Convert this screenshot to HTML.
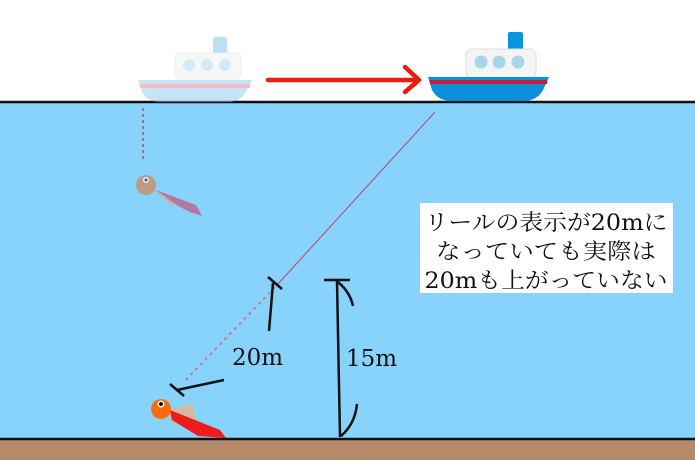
<!DOCTYPE html>
<html><head><meta charset="utf-8"><style>
html,body{margin:0;padding:0;background:#fff;}
svg{display:block;}
text{font-family:"DejaVu Serif","Noto Serif CJK SC",serif;}
</style></head><body>
<svg width="695" height="460" viewBox="0 0 695 460" xmlns="http://www.w3.org/2000/svg">
<rect x="0" y="0" width="695" height="460" fill="#fff"/>
<rect x="0" y="102" width="695" height="338" fill="#87d3fb"/>
<rect x="0" y="440" width="695" height="20" fill="#b58a6a"/>
<line x1="0" y1="102" x2="695" y2="102" stroke="#111" stroke-width="2.5"/>
<line x1="0" y1="439" x2="695" y2="439" stroke="#111" stroke-width="2.5"/>

<g opacity="0.5">
<rect x="213" y="37" width="14" height="16" rx="2" fill="#7cc5f0"/>
<rect x="175" y="53" width="66" height="26" rx="5" fill="#f1f1f1" stroke="#ddd"/>
<circle cx="189" cy="65" r="6" fill="#a8d8f0"/><circle cx="207" cy="65" r="6" fill="#a8d8f0"/><circle cx="225" cy="65" r="6" fill="#a8d8f0"/>
<path d="M138 80 H252 L246 92 Q240 102 228 102 H160 Q148 102 142 92 Z" fill="#8ccdef"/>
<rect x="140" y="84" width="110" height="4" fill="#e57a90"/>
</g>

<rect x="508" y="32" width="15" height="18" rx="2" fill="#0a95e0"/>
<rect x="466" y="49" width="70" height="29" rx="6" fill="#f4f4f4" stroke="#ddd"/>
<circle cx="481" cy="62" r="6.5" fill="#a8d5ec"/><circle cx="499" cy="62" r="6.5" fill="#a8d5ec"/><circle cx="518" cy="62" r="6.5" fill="#a8d5ec"/>
<path d="M428 77 H549 L543 90 Q537 101 523 101 H452 Q438 101 432 90 Z" fill="#0a8fd8"/>
<rect x="430" y="80" width="117" height="4" fill="#c21e3a"/>

<line x1="268" y1="80" x2="417" y2="80" stroke="#ee1c0c" stroke-width="4.5" stroke-linecap="round"/>
<polyline points="405,67 419,80 405,92" fill="none" stroke="#ee1c0c" stroke-width="4.5" stroke-linecap="round" stroke-linejoin="round"/>

<line x1="143" y1="108" x2="143" y2="162" stroke="#b0506a" stroke-width="1.5" stroke-dasharray="3,3"/>
<g opacity="0.75">
<path d="M152 188 L178 200 L172 206 Z" fill="#e0a58a"/>
<path d="M156 190 L196 205 L202 216 L190 212 L178 206 Z" fill="#c45a8a"/>
<circle cx="146" cy="185" r="10" fill="#cf8a60"/>
<circle cx="146" cy="180" r="3" fill="#fff"/><circle cx="146" cy="180" r="1.5" fill="#234"/>
</g>

<line x1="435" y1="112" x2="277" y2="285" stroke="#c0436a" stroke-width="1"/>
<line x1="275" y1="287" x2="183" y2="383" stroke="#c0808c" stroke-width="2" stroke-dasharray="3,4"/>

<path d="M168 410 L192 404 L196 420 L172 424 Z" fill="#e7b48a" opacity="0.8"/>
<path d="M170 410 L205 424 L220 430 L226 438 L198 436 L172 420 Z" fill="#ee1c1c"/>
<circle cx="161" cy="409" r="10" fill="#ff6a0a"/>
<circle cx="161" cy="404" r="3.5" fill="#fff"/><circle cx="161" cy="404" r="2" fill="#111"/>

<line x1="268" y1="277" x2="282" y2="289" stroke="#111" stroke-width="2.5"/>
<line x1="273" y1="283" x2="269" y2="331" stroke="#111" stroke-width="2.5"/>
<line x1="170" y1="384" x2="184" y2="396" stroke="#111" stroke-width="2.5"/>
<line x1="177" y1="390" x2="224" y2="380" stroke="#111" stroke-width="2.5"/>
<text x="232" y="365" font-size="23" fill="#111">20m</text>

<line x1="324" y1="280" x2="350" y2="280" stroke="#111" stroke-width="2.5"/>
<line x1="337" y1="281" x2="340" y2="437" stroke="#111" stroke-width="2.5"/>
<path d="M338 282 Q350 292 353 306" fill="none" stroke="#111" stroke-width="2.5"/>
<path d="M341 436 Q355 424 357 404" fill="none" stroke="#111" stroke-width="2.5"/>
<text x="346" y="366" font-size="23" fill="#111">15m</text>

<rect x="420" y="203" width="253" height="90" fill="#fff"/>
<text x="546" y="230" font-size="22" fill="#111" text-anchor="middle" textLength="243" lengthAdjust="spacingAndGlyphs">リールの表示が20mに</text>
<text x="546" y="259" font-size="22" fill="#111" text-anchor="middle" textLength="220" lengthAdjust="spacingAndGlyphs">なっていても実際は</text>
<text x="546" y="288" font-size="22" fill="#111" text-anchor="middle" textLength="243" lengthAdjust="spacingAndGlyphs">20mも上がっていない</text>
</svg>
</body></html>
